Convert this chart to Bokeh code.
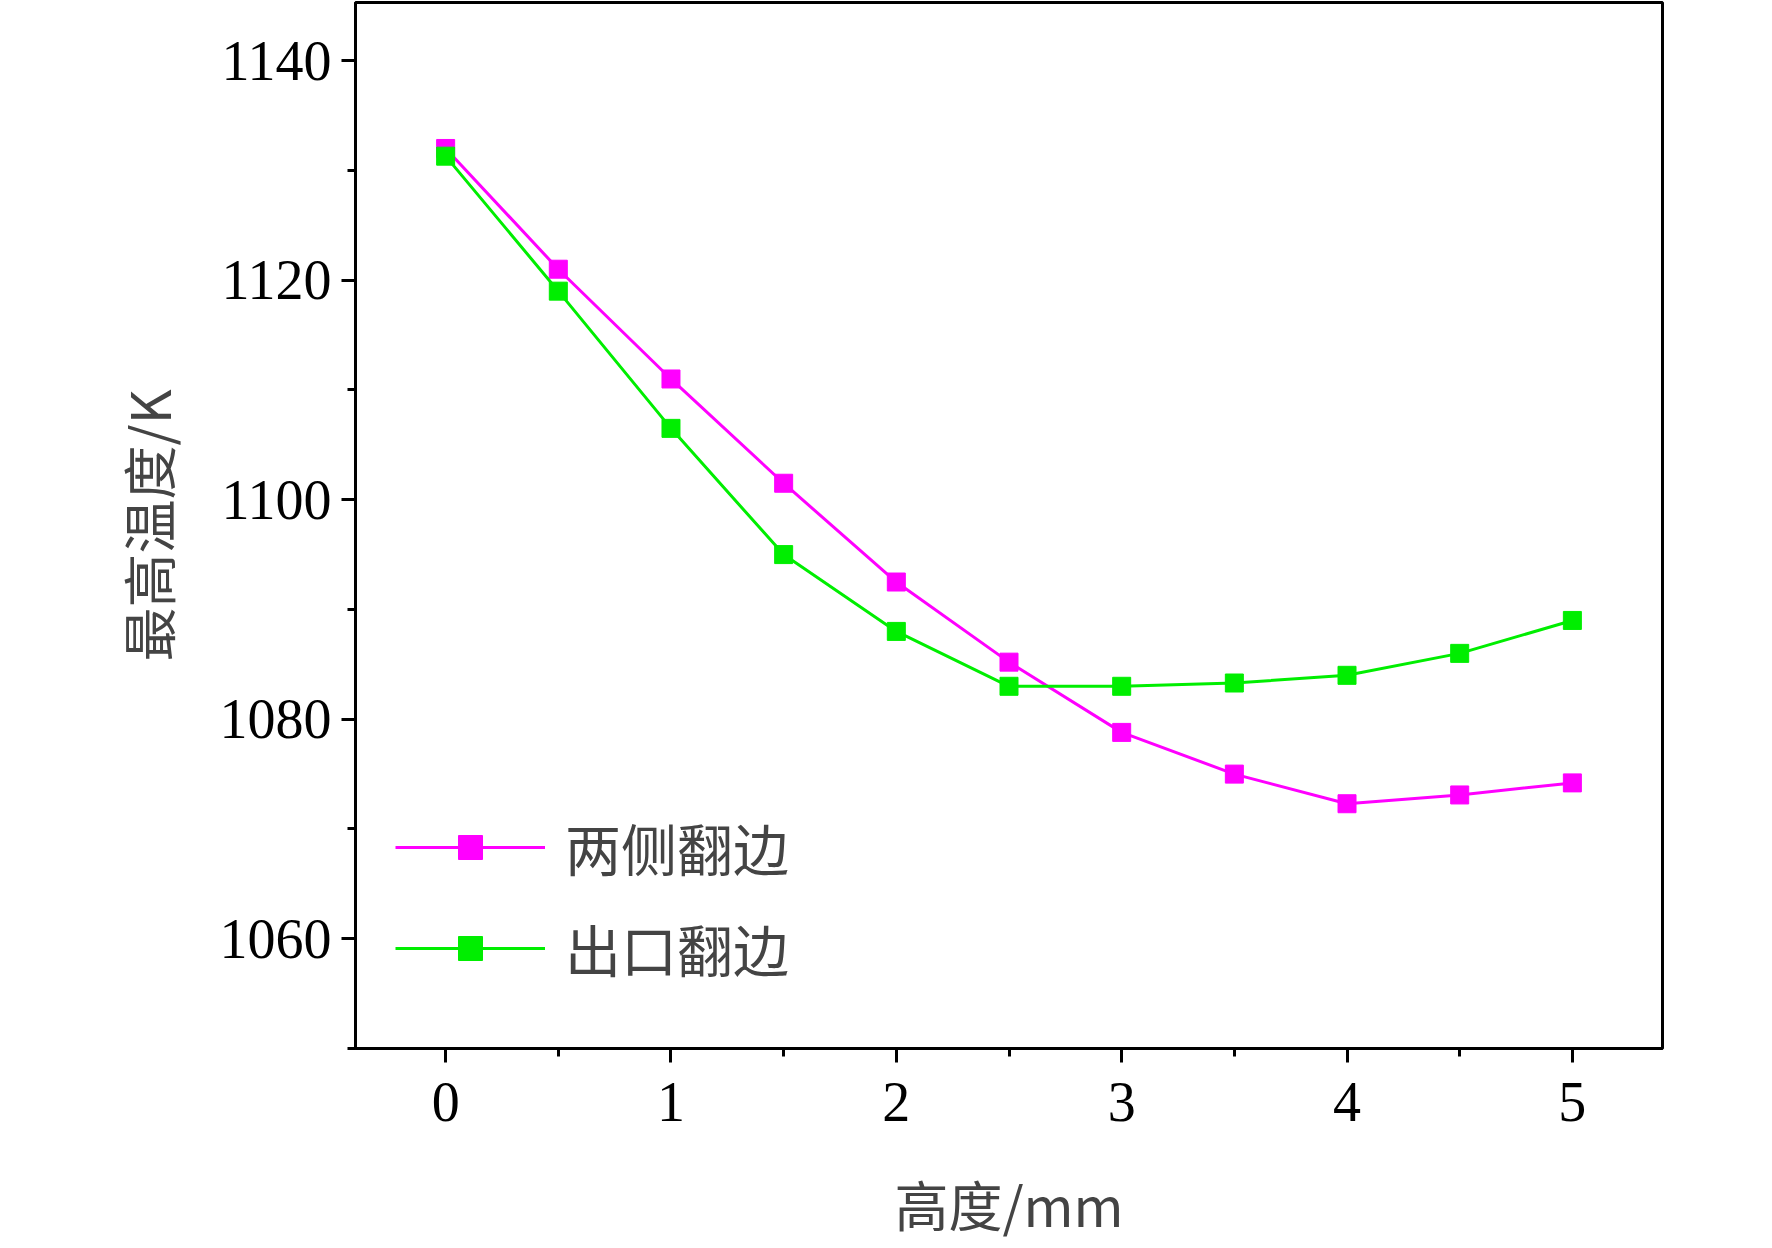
from bokeh.plotting import figure
from bokeh.models import Legend, LegendItem, FixedTicker, Range1d
from bokeh.embed import file_html
from bokeh.resources import INLINE

x = [0, 0.5, 1, 1.5, 2, 2.5, 3, 3.5, 4, 4.5, 5]
both_sides = [1132, 1121, 1111, 1101.5, 1092.5, 1085.2, 1078.8, 1075, 1072.3, 1073.1, 1074.2]
outlet = [1131.3, 1119, 1106.5, 1095, 1088, 1083, 1083, 1083.3, 1084, 1086, 1089]
names = ["两侧翻边", "出口翻边"]
yticks = [1060, 1080, 1100, 1120, 1140]
xticks = [0, 1, 2, 3, 4, 5]

p = figure(output_backend="svg", toolbar_location=None,
           frame_width=1307, frame_height=1046,
           min_border_left=355, min_border_right=90, min_border_top=2, min_border_bottom=170,
           x_range=Range1d(-0.4, 5.4), y_range=Range1d(1050, 1145.3))
p.grid.visible = False
p.outline_line_color = "black"
p.outline_line_width = 3
p.background_fill_color = "white"

r1 = p.line(x, both_sides, line_color="#ff00ff", line_width=3)
s1 = p.scatter(x, both_sides, marker="square", size=18, fill_color="#ff00ff", line_color="#ff00ff")
r2 = p.line(x, outlet, line_color="#00ee00", line_width=3)
s2 = p.scatter(x, outlet, marker="square", size=18, fill_color="#00ee00", line_color="#00ee00")

for ax in (p.xaxis[0], p.yaxis[0]):
    ax.axis_line_width = 3
    ax.major_tick_line_width = 3
    ax.minor_tick_line_width = 3
    ax.major_tick_out = 14
    ax.major_tick_in = 0
    ax.minor_tick_out = 8
    ax.minor_tick_in = 0
    ax.major_label_text_font = "Liberation Serif"
    ax.major_label_text_font_size = "56px"
    ax.major_label_text_color = "black"
    ax.axis_label_text_font = "Noto Sans CJK SC"
    ax.axis_label_text_font_size = "54px"
    ax.axis_label_text_font_style = "normal"

p.xaxis.ticker = FixedTicker(ticks=xticks, minor_ticks=[0.5, 1.5, 2.5, 3.5, 4.5])
p.yaxis.ticker = FixedTicker(ticks=yticks, minor_ticks=[1050, 1070, 1090, 1110, 1130])
p.xaxis.axis_label = "高度/mm"
p.yaxis.axis_label = "最高温度/K"
p.xaxis.major_label_standoff = 20
p.yaxis.major_label_standoff = 10
p.xaxis.axis_label_standoff = 40
p.yaxis.axis_label_standoff = 30

legend = Legend(items=[LegendItem(label=names[0], renderers=[r1, s1]),
                       LegendItem(label=names[1], renderers=[r2, s2])],
                location=(40, 60), border_line_color=None, background_fill_alpha=0,
                label_text_font="Noto Sans CJK SC", label_text_font_size="56px",
                glyph_width=150, glyph_height=60, spacing=20, label_standoff=20)
p.add_layout(legend)

open("out.html", "w").write(file_html(p, INLINE))
